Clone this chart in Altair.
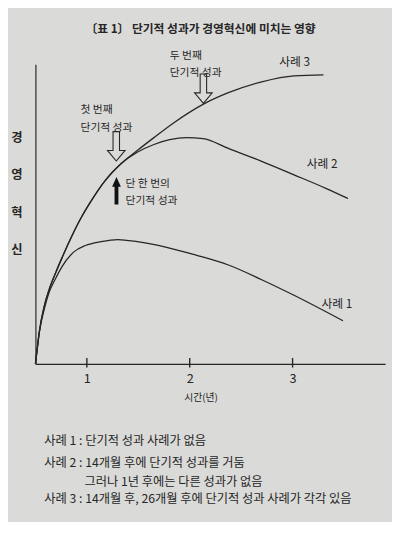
import altair as alt
import pandas as pd

# ---- Curves (x: years, y: level of management innovation, conceptual units) ----
case1_x = [0.500, 0.510, 0.538, 0.586, 0.633, 0.690, 0.757, 0.871, 0.986, 1.138, 1.300, 1.490,
           1.776, 2.062, 2.376, 2.700, 3.014, 3.490]
case1_y = [0.0, 2.9, 10.5, 18.3, 23.9, 28.1, 32.4, 37.3, 39.5, 40.8, 41.5, 40.8,
           38.9, 36.3, 33.0, 28.1, 22.9, 14.4]

shared_x = [0.500, 0.510, 0.538, 0.586, 0.633, 0.700, 0.757, 0.852, 0.948, 1.033, 1.176, 1.329]
shared_y = [0.0, 2.9, 10.8, 19.3, 24.8, 30.7, 35.3, 42.5, 49.0, 53.9, 61.1, 66.7]

case2_x = [1.490, 1.652, 1.805, 1.967, 2.129, 2.376, 2.700, 3.014, 3.329, 3.538]
case2_y = [70.6, 73.2, 74.8, 75.5, 75.2, 71.9, 67.6, 63.1, 58.5, 55.2]

case3_x = [1.490, 1.652, 1.843, 2.129, 2.376, 2.700, 3.014, 3.300]
case3_y = [71.2, 75.5, 80.4, 86.6, 90.5, 94.1, 96.1, 96.4]

tick_values = [1, 2, 3]

# ---- Texts ----
title_text = "〔표 1〕 단기적 성과가 경영혁신에 미치는 영향"
y_title_chars = ["경", "영", "혁", "신"]
x_title_text = "시간(년)"

labels = ["첫 번째", "단기적 성과", "두 번째", "단기적 성과", "단 한 번의", "단기적 성과"]
case_labels = ["사례  3", "사례  2", "사례  1"]
notes = ["사례 1 : 단기적 성과 사례가 없음",
         "사례 2 : 14개월 후에 단기적 성과를 거둠",
         "그러나 1년 후에는 다른 성과가 없음",
         "사례 3 : 14개월 후, 26개월 후에 단기적 성과 사례가 각각 있음"]

# annotation anchors (data coordinates)
label_x = [0.938, 0.938, 1.805, 1.805, 1.376, 1.376]
label_y = [84.6, 78.8, 102.6, 97.1, 60.1, 54.2]
case_label_x = [2.871, 3.138, 3.281]
case_label_y = [100.6, 66.8, 19.9]
ychar_x = [0.319] * 4
ychar_y = [75.5, 63.1, 50.3, 37.9]
note_x = [0.586, 0.586, 0.976, 0.586]
note_y = [-25.6, -33.0, -39.3, -45.2]
title_xy = (2.105, 111.6)
xtitle_xy = (2.11, -11.5)
hollow_arrow_x = [1.286, 2.133]
hollow_arrow_y = [72.6, 91.8]
solid_arrow_x = [1.288]
solid_arrow_y = [57.8]

# ---- Build tables ----
rows = []
for sx, sy, name in [(case1_x, case1_y, "사례 1"),
                     (shared_x + case2_x, shared_y + case2_y, "사례 2"),
                     (shared_x + case3_x, shared_y + case3_y, "사례 3")]:
    for i, (a, b) in enumerate(zip(sx, sy)):
        rows.append({"x": a, "y": b, "series": name, "order": i})
curves = pd.DataFrame(rows)

INK = "#262626"
FONT = "Noto Sans CJK KR"
XS = alt.Scale(domain=[0.5, 3.9], nice=False, zero=False)
YS = alt.Scale(domain=[0, 100], nice=False, zero=False)

xaxis = alt.Axis(values=tick_values, format="d", ticks=False, grid=False, domainColor=INK,
                 domainWidth=1.2, labelFontSize=13, labelColor=INK, labelFont=FONT,
                 labelPadding=9, title=None)
yaxis = alt.Axis(ticks=False, labels=False, grid=False, domainColor=INK, domainWidth=1.2, title=None)

lines = alt.Chart(curves).mark_line(interpolate="monotone", color=INK, strokeWidth=1.3).encode(
    x=alt.X("x:Q", scale=XS, axis=xaxis),
    y=alt.Y("y:Q", scale=YS, axis=yaxis),
    detail="series:N",
    order="order:Q",
)

ticks_df = pd.DataFrame({"x": tick_values, "y": [-1.2] * 3, "y2": [2.0] * 3})
ticks = alt.Chart(ticks_df).mark_rule(color=INK, strokeWidth=1.4).encode(
    x=alt.X("x:Q", scale=XS), y=alt.Y("y:Q", scale=YS), y2="y2:Q")

down_arrow = "M -0.22 -1 L 0.22 -1 L 0.22 0.28 L 0.6 0.28 L 0 1 L -0.6 0.28 L -0.22 0.28 Z"
up_arrow = "M 0 -1 L 0.32 -0.29 L 0.14 -0.29 L 0.14 1 L -0.14 1 L -0.14 -0.29 L -0.32 -0.29 Z"

hollow = alt.Chart(pd.DataFrame({"x": hollow_arrow_x, "y": hollow_arrow_y})).mark_point(
    shape=down_arrow, size=900, filled=False, stroke=INK, strokeWidth=1.1, opacity=1).encode(
    x=alt.X("x:Q", scale=XS), y=alt.Y("y:Q", scale=YS))

solid = alt.Chart(pd.DataFrame({"x": solid_arrow_x, "y": solid_arrow_y})).mark_point(
    shape=up_arrow, size=784, filled=True, color="#111111", opacity=1).encode(
    x=alt.X("x:Q", scale=XS), y=alt.Y("y:Q", scale=YS))


def text_layer(xs, ys, texts, size, align="left", weight="normal"):
    df = pd.DataFrame({"x": xs, "y": ys, "t": texts})
    return alt.Chart(df).mark_text(font=FONT, fontSize=size, align=align, baseline="middle",
                                   color=INK, fontWeight=weight).encode(
        x=alt.X("x:Q", scale=XS), y=alt.Y("y:Q", scale=YS), text="t:N")


t_labels = text_layer(label_x, label_y, labels, 11)
t_cases = text_layer(case_label_x, case_label_y, case_labels, 12)
t_ychars = text_layer(ychar_x, ychar_y, y_title_chars, 12.5, align="center", weight="bold")
t_notes = text_layer(note_x, note_y, notes, 12.5)
t_title = text_layer([title_xy[0]], [title_xy[1]], [title_text], 12, align="center", weight="bold")
t_xtitle = text_layer([xtitle_xy[0]], [xtitle_xy[1]], [x_title_text], 10, align="center")

chart = alt.layer(lines, ticks, hollow, solid, t_labels, t_cases, t_ychars, t_notes,
                  t_title, t_xtitle).properties(
    width=357, height=306,
    padding={"left": 28, "top": 52, "right": 7, "bottom": 156},
    autosize=alt.AutoSizeParams(type="none"),
    background="#dadad8",
).configure_view(stroke=None)

chart.save("out.html", embed_options={"renderer": "svg", "actions": False})
